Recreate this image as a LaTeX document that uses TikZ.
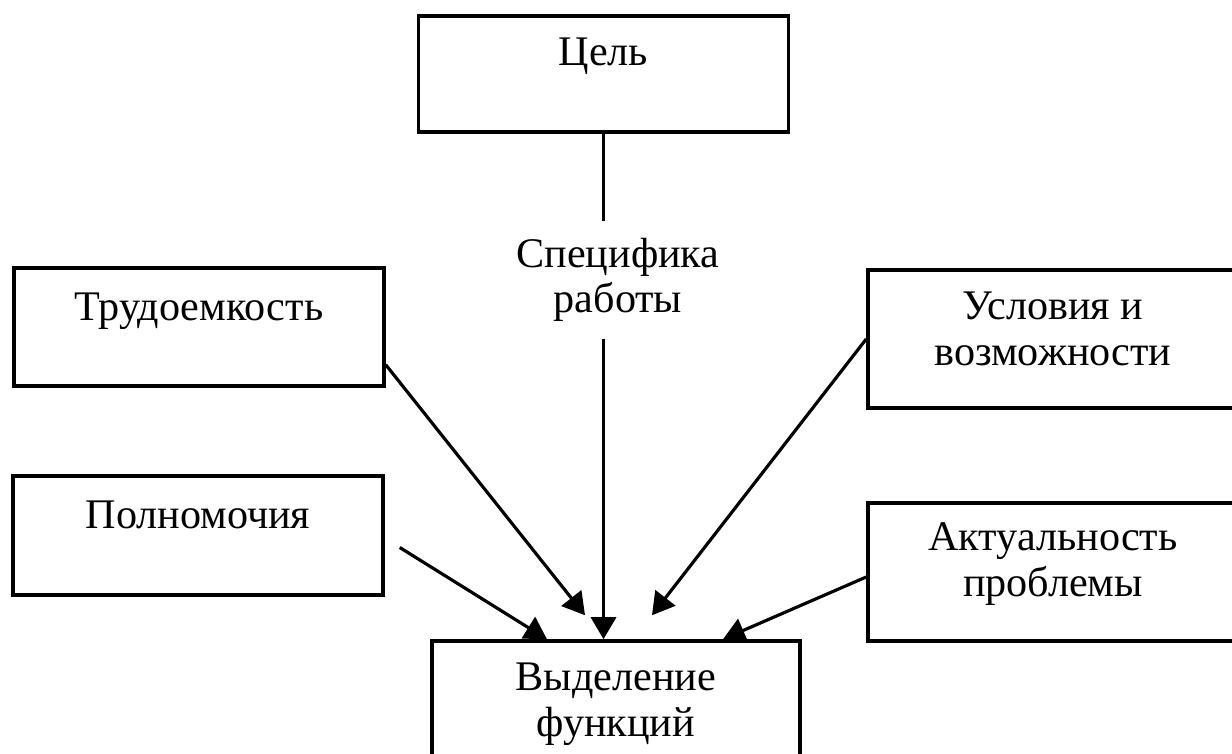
\documentclass[tikz,border=0pt]{standalone}
\usepackage{fontspec}
\setmainfont{Liberation Serif}
\usetikzlibrary{arrows.meta,positioning}

\tikzset{
  block/.style={draw, line width=1pt, inner sep=0pt, minimum width=3.7cm},
  lbl/.style={anchor=base, align=center, inner sep=0pt, font=\fontsize{12}{13}\selectfont},
  link/.style={line width=0.9pt},
  arr/.style={link, -{Triangle[length=2.2mm,width=2.5mm]}},
}

\begin{document}
\begin{tikzpicture}
\useasboundingbox (0,0) rectangle (12.32,-7.54);
\clip (0,0) rectangle (12.32,-7.54);
% boxes
\node[block, minimum height=1.16cm] (goal) at (6.035,-0.74) {};
\node[block, minimum height=1.18cm] (labour) at (1.99,-3.27) {};
\node[block, minimum height=1.19cm] (power) at (1.98,-5.355) {};
\node[block, minimum height=1.38cm] (cond) at (10.53,-3.39) {};
\node[block, minimum height=1.38cm] (actual) at (10.53,-5.72) {};
\node[block, minimum width=3.68cm, minimum height=1.3cm] (func) at (6.16,-7.06) {};
% texts (base = last line)
\node[lbl] (goal-t) at ([yshift=-5.1mm]goal.north) {Цель};
\node[lbl] (labour-t) at ([yshift=-5.4mm]labour.north) {Трудоемкость};
\node[lbl] (power-t) at ([yshift=-5.4mm]power.north) {Полномочия};
\node[lbl] (cond-t) at ([yshift=-9.7mm]cond.north) {Условия и\\возможности};
\node[lbl] (actual-t) at ([yshift=-9.5mm]actual.north) {Актуальность\\проблемы};
\node[lbl] (func-t) at ([yshift=-9.7mm]func.north) {Выделение\\функций};
\node[lbl, anchor=center, minimum height=1.16cm] (spec) at (6.18,-2.80) {Специфика\\работы};
% connectors
\draw[link] (goal.south) -- (goal.south |- spec.north);
\draw[arr] (goal.south |- spec.south) -- (goal.south |- func.north);
\draw[arr] ([yshift=2.3mm]labour.south east) -- ([xshift=-3.1mm,yshift=2.4mm]func.north);
\draw[arr] ([xshift=1.5mm,yshift=-1.2mm]power.east) -- ([xshift=-6.9mm]func.north);
\draw[arr] (cond.west) -- ([xshift=3.6mm,yshift=2.4mm]func.north);
\draw[arr] ([yshift=-0.5mm]actual.west) -- ([xshift=10.7mm]func.north);
\end{tikzpicture}
\end{document}
